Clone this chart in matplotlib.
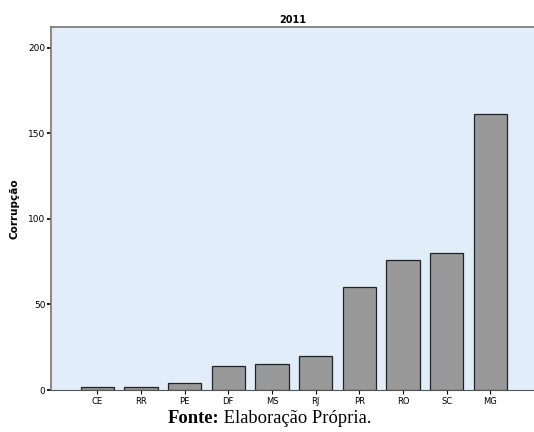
import matplotlib.pyplot as plt
import numpy as np

# dados
estados = ["CE", "RR", "PE", "DF", "MS", "RJ", "PR", "RO", "SC", "MG"]
corrupcao = [2, 2, 4, 14, 15, 20, 60, 76, 80, 161]
yticks = [0, 50, 100, 150, 200]

fig = plt.figure(figsize=(5.34, 4.32), dpi=100)
ax = fig.add_axes([0.0955, 0.097, 0.9045, 0.8405])
ax.set_facecolor("#e1edf9")

x = np.arange(len(estados))
ax.bar(x, corrupcao, width=0.76, color="#999999", edgecolor="#222222", linewidth=0.9)

ax.set_xlim(-1.06, 10.0)
ax.set_ylim(0, 212)
ax.set_xticks(x)
ax.set_xticklabels(estados, fontsize=6)
ax.set_yticks(yticks)
ax.set_yticklabels([str(v) for v in yticks], fontsize=6.5)
ax.tick_params(axis="y", direction="out", length=3, width=1.2, pad=1)
ax.tick_params(axis="x", direction="out", length=3, width=0.8, pad=2)

for s in ["left", "top"]:
    ax.spines[s].set_color("#777777")
    ax.spines[s].set_linewidth(1.2)
ax.spines["bottom"].set_color("#555555")
ax.spines["right"].set_visible(False)

ax.set_title("2011", fontsize=7, fontweight="bold", pad=3)
ax.set_ylabel("Corrupção", fontsize=7.5, fontweight="bold", labelpad=6)

# rodapé
fig.text(0.410, 0.032, "Fonte:", family="Liberation Serif", fontweight="bold",
         fontsize=13.3, ha="right", va="center")
fig.text(0.410, 0.032, " Elaboração Própria.", family="Liberation Serif",
         fontsize=13.3, ha="left", va="center")

fig.savefig("out.png", dpi=100)
